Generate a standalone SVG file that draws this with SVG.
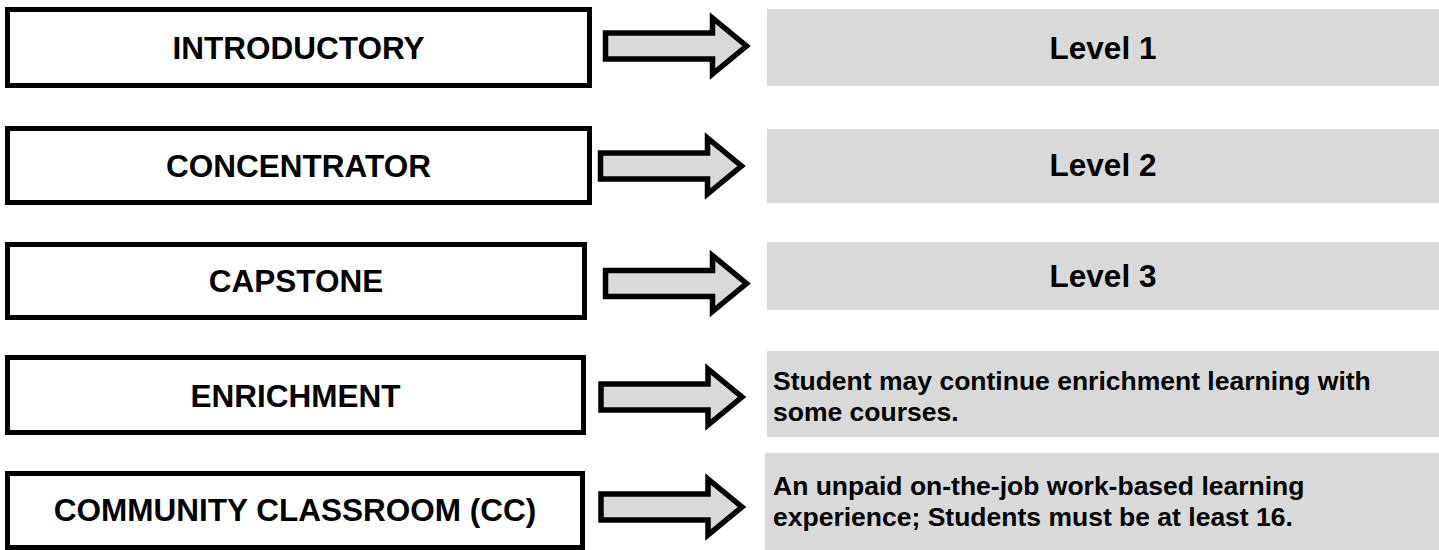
<svg xmlns="http://www.w3.org/2000/svg" width="1439" height="550" viewBox="0 0 1439 550">
  <defs>
    <style>
      .box { fill: #ffffff; stroke: #000000; stroke-width: 5; }
      .panel { fill: #d9d9d9; stroke: none; }
      .arrow { fill: #d9d9d9; stroke: #000000; stroke-width: 5.5; stroke-linejoin: miter; }
      .label { font-family: "Liberation Sans", Arial, sans-serif; font-weight: bold; font-size: 31.5px; fill: #000000; text-anchor: middle; }
      .desc { font-family: "Liberation Sans", Arial, sans-serif; font-weight: bold; font-size: 26.5px; fill: #000000; }
    </style>
    <path id="arr" d="M0,-13 H107 V-28 L141,0 L107,28 V13 H0 Z"/>
  </defs>
  <rect width="1439" height="550" fill="#ffffff"/>

  <g id="node-introductory">
    <rect class="box" x="7.5" y="9.5" width="582" height="76"/>
    <text class="label" x="298.5" y="59">INTRODUCTORY</text>
  </g>
  <g id="node-concentrator">
    <rect class="box" x="7.5" y="128.5" width="582" height="74"/>
    <text class="label" x="298.5" y="177">CONCENTRATOR</text>
  </g>
  <g id="node-capstone">
    <rect class="box" x="7.5" y="244.5" width="577" height="73"/>
    <text class="label" x="296" y="292">CAPSTONE</text>
  </g>
  <g id="node-enrichment">
    <rect class="box" x="7.5" y="357.5" width="576" height="75"/>
    <text class="label" x="295.5" y="406.5">ENRICHMENT</text>
  </g>
  <g id="node-cc">
    <rect class="box" x="7.5" y="473.5" width="575" height="74"/>
    <text class="label" x="295" y="521">COMMUNITY CLASSROOM (CC)</text>
  </g>

  <g id="node-level1">
    <rect class="panel" x="767" y="9" width="672" height="77"/>
    <text class="label" x="1103" y="59">Level 1</text>
  </g>
  <g id="node-level2">
    <rect class="panel" x="767" y="129" width="672" height="74"/>
    <text class="label" x="1103" y="176">Level 2</text>
  </g>
  <g id="node-level3">
    <rect class="panel" x="767" y="242" width="672" height="68"/>
    <text class="label" x="1103" y="287">Level 3</text>
  </g>
  <g id="node-enrichment-desc">
    <rect class="panel" x="767" y="351" width="672" height="86"/>
    <text class="desc" x="773" y="390">Student may continue enrichment learning with</text>
    <text class="desc" x="773" y="421">some courses.</text>
  </g>
  <g id="node-cc-desc">
    <rect class="panel" x="765" y="453" width="674" height="97"/>
    <text class="desc" x="773" y="495">An unpaid on-the-job work-based learning</text>
    <text class="desc" x="773" y="526">experience; Students must be at least 16.</text>
  </g>

  <g id="connectors">
    <use href="#arr" class="arrow" transform="translate(605.5,46)"/>
    <use href="#arr" class="arrow" transform="translate(600.5,166)"/>
    <use href="#arr" class="arrow" transform="translate(605.5,283.5)"/>
    <use href="#arr" class="arrow" transform="translate(601,397)"/>
    <use href="#arr" class="arrow" transform="translate(601,507)"/>
  </g>
</svg>
